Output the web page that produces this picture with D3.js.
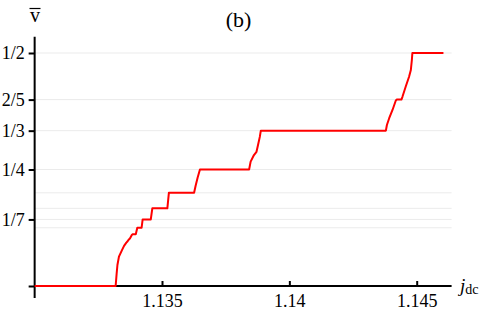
<!DOCTYPE html>
<html lang="en">
<head>
<meta charset="UTF-8">
<title>(b)</title>
<style>
  body { margin: 0; background: #fff; }
  svg text { font-family: "Liberation Serif", "DejaVu Serif", serif !important; fill: #000; }
</style>
</head>
<body>
<script src="https://cdn.jsdelivr.net/npm/d3@7"></script>
<script>
  const width = 488, height = 314;

  // curve: j_dc and average velocity
  const jdc = [1.13, 1.13318, 1.13322, 1.13325, 1.13331, 1.13342, 1.13351, 1.13360, 1.13365,
    1.13370, 1.13374, 1.13381, 1.13384, 1.13397, 1.13403, 1.13420, 1.13424, 1.13456, 1.13462,
    1.13521, 1.13527, 1.13626, 1.13632, 1.13640, 1.13649, 1.13842, 1.13848, 1.13861, 1.13871,
    1.13877, 1.13884, 1.13888, 1.14379, 1.14383, 1.14392, 1.14405, 1.14418, 1.14422, 1.14440,
    1.14444, 1.14457, 1.14470, 1.14477, 1.14481, 1.14483, 1.14605];
  const vbar = [0, 0, 0.027, 0.045, 0.063, 0.076, 0.086, 0.093, 0.096,
    0.100, 0.102, 0.109, 0.111, 0.111, 0.125, 0.125, 0.1429, 0.1429, 0.1667,
    0.1667, 0.2, 0.2, 0.215, 0.233, 0.25, 0.25, 0.267, 0.281, 0.288,
    0.3026, 0.32, 0.3333, 0.3333, 0.3455, 0.36, 0.3777, 0.398, 0.4, 0.4,
    0.406, 0.428, 0.449, 0.4635, 0.485, 0.5, 0.5];

  const yTicks = [0, 1/7, 1/4, 1/3, 2/5, 1/2];
  const yTickLabels = ["", "1/7", "1/4", "1/3", "2/5", "1/2"];
  const gridValues = [1/8, 1/7, 1/6, 1/5, 1/4, 1/3, 2/5, 1/2];
  const xTicks = [1.135, 1.14, 1.145];
  const xTickLabels = ["1.135", "1.14", "1.145"];

  const x = d3.scaleLinear().domain([1.135, 1.145]).range([162, 416.7]);
  const y = d3.scaleLinear().domain([0, 0.5]).range([286, 53]);

  const svg = d3.select("body").append("svg")
    .attr("width", width).attr("height", height);

  // grid
  svg.append("g").selectAll("line").data(gridValues).enter().append("line")
    .attr("x1", x(1.13)).attr("x2", x(1.14637))
    .attr("y1", d => y(d)).attr("y2", d => y(d))
    .attr("stroke", "#ebebeb").attr("stroke-width", 1);

  // y axis
  const yAxis = d3.axisLeft(y).tickValues(yTicks)
    .tickFormat((d, i) => yTickLabels[i]).tickSize(6).tickPadding(4);
  const gy = svg.append("g").attr("transform", `translate(${x(1.13)},0)`).call(yAxis)
    .attr("font-family", null).attr("font-size", 18);
  gy.select(".domain").remove();
  gy.append("line").attr("x1", 0).attr("x2", 0)
    .attr("y1", y(0.535)).attr("y2", y(-0.026))
    .attr("stroke", "#000").attr("stroke-width", 2);
  gy.selectAll(".tick line").attr("stroke", "#000").attr("stroke-width", 2);

  // x axis
  const xAxis = d3.axisBottom(x).tickValues(xTicks)
    .tickFormat((d, i) => xTickLabels[i]).tickSizeInner(-5).tickSizeOuter(0).tickPadding(8);
  const gx = svg.append("g").attr("transform", `translate(0,${y(0)})`).call(xAxis)
    .attr("font-family", null).attr("font-size", 18);
  gx.select(".domain").remove();
  gx.append("line").attr("x1", x(1.13)).attr("x2", x(1.14637))
    .attr("y1", 0).attr("y2", 0).attr("stroke", "#000").attr("stroke-width", 2);
  gx.selectAll(".tick line").attr("stroke", "#000").attr("stroke-width", 2);

  // curve
  const pts = jdc.map((d, i) => [d, vbar[i]]);
  svg.append("path").datum(pts)
    .attr("d", d3.line().x(d => x(d[0])).y(d => y(d[1])))
    .attr("fill", "none").attr("stroke", "#ff0000").attr("stroke-width", 2)
    .attr("stroke-linejoin", "round");

  // labels
  svg.append("text").attr("x", 238.5).attr("y", 27).attr("text-anchor", "middle")
    .style("font-size", "22px").text("(b)");

  svg.append("text").attr("x", 35).attr("y", 22).attr("text-anchor", "middle")
    .style("font-size", "20px").text("v");
  svg.append("line").attr("x1", 29.5).attr("x2", 40.5).attr("y1", 8.5).attr("y2", 8.5)
    .attr("stroke", "#000").attr("stroke-width", 1.2);

  const jl = svg.append("text").attr("x", 460).attr("y", 292).style("font-size", "19px");
  jl.append("tspan").style("font-style", "italic").text("j");
  jl.append("tspan").attr("dy", 2).style("font-size", "14px").text("dc");
</script>
</body>
</html>
